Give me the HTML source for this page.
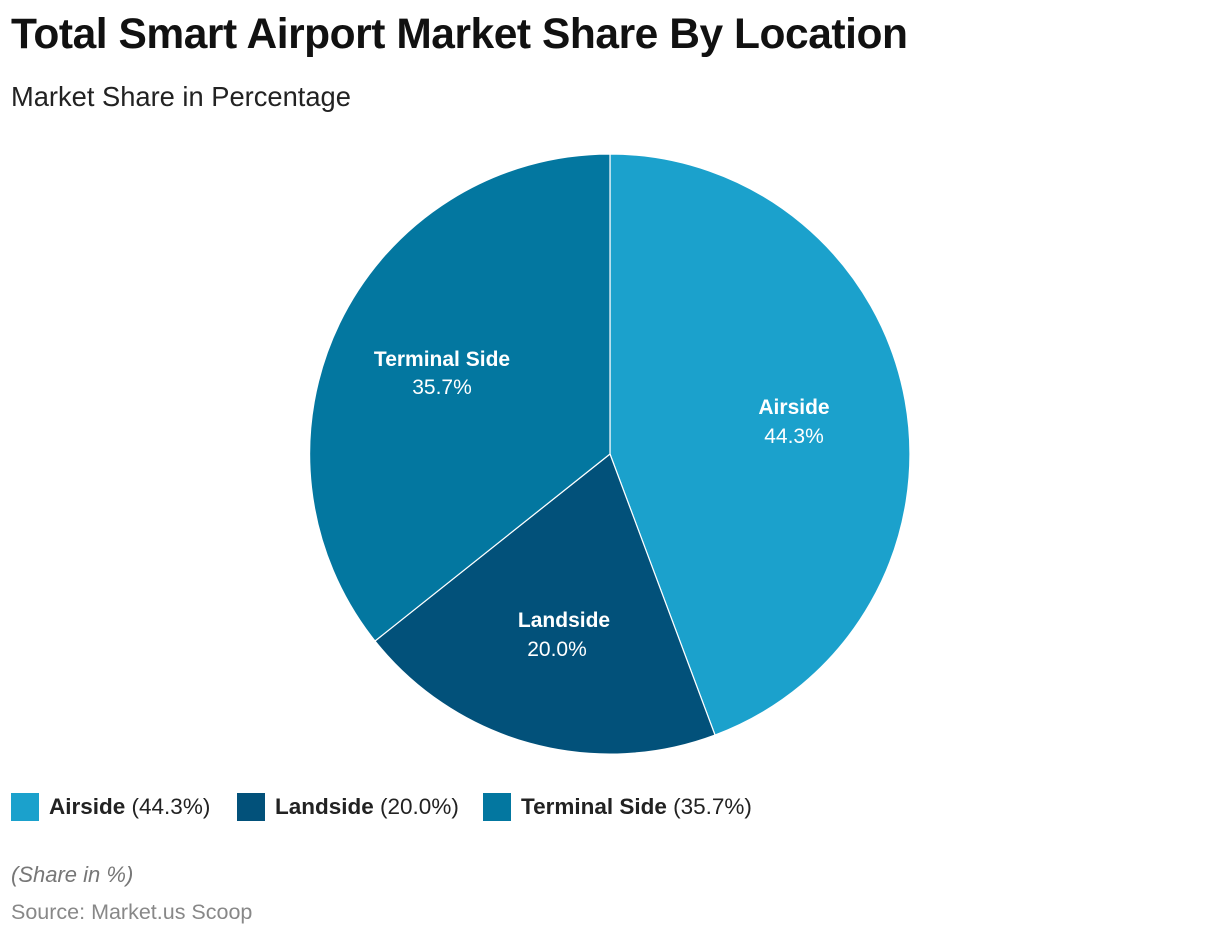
<!DOCTYPE html>
<html><head><meta charset="utf-8"><style>
body{margin:0;background:#fff;width:1220px;height:936px;overflow:hidden;font-family:"Liberation Sans",Arial,sans-serif;}
.t{position:absolute;left:11px;top:11px;font-size:42.5px;font-weight:bold;color:#111;letter-spacing:-0.45px}
.s{position:absolute;left:11px;top:81px;font-size:27.3px;color:#222}
.lg{position:absolute;top:793px;font-size:22.5px;color:#222;display:flex;align-items:center}
.lg i{display:inline-block;width:28px;height:28px;margin-right:10px}
.n{position:absolute;left:11px;top:862px;font-size:22px;font-style:italic;color:#777}
.src{position:absolute;left:11px;top:900px;font-size:21.5px;color:#888}
</style></head><body>
<div class="t">Total Smart Airport Market Share By Location</div>
<div class="s">Market Share in Percentage</div>
<svg style="position:absolute;left:0;top:0" width="1220" height="936">
<g stroke="#fff" stroke-width="1.2">
<path d="M610,454 L610,154 A300,300 0 0 1 715,735 Z" fill="#1ba1cc"/>
<path d="M610,454 L715,735 A300,300 0 0 1 375,641 Z" fill="#02517a"/>
<path d="M610,454 L375,641 A300,300 0 0 1 610,154 Z" fill="#0377a0"/>
</g>
<g fill="#fff" font-family="Liberation Sans,Arial,sans-serif" font-size="21" text-anchor="middle">
<text x="794" y="414" font-weight="bold">Airside</text><text x="794" y="443">44.3%</text>
<text x="564" y="627" font-weight="bold">Landside</text><text x="557" y="656">20.0%</text>
<text x="442" y="366" font-weight="bold">Terminal Side</text><text x="442" y="394">35.7%</text>
</g></svg>
<div class="lg" style="left:11px"><i style="background:#1ba1cc"></i><b>Airside</b>&nbsp;(44.3%)</div>
<div class="lg" style="left:237px"><i style="background:#02517a"></i><b>Landside</b>&nbsp;(20.0%)</div>
<div class="lg" style="left:483px"><i style="background:#0377a0"></i><b>Terminal Side</b>&nbsp;(35.7%)</div>
<div class="n">(Share in %)</div>
<div class="src">Source: Market.us Scoop</div>
</body></html>
